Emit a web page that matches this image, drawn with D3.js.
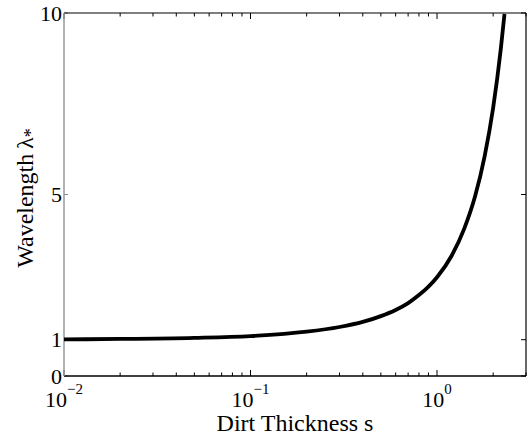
<!DOCTYPE html>
<html>
<head>
<meta charset="utf-8">
<script src="https://cdn.jsdelivr.net/npm/d3@7"></script>
<style>
  body { margin: 0; background: #fff; }
  text { font-family: "Liberation Serif", "DejaVu Serif", serif; fill: #000; }
</style>
</head>
<body>
<div id="chart"></div>
<script>
// dirt thickness s and wavelength lambda_*
const thickness = [0.01, 0.02, 0.05, 0.1, 0.2, 0.3, 0.4, 0.5, 0.6, 0.7, 0.8, 0.9, 1.0, 1.2, 1.4, 1.6, 1.8, 2.0, 2.2, 2.3];
const wavelength = [1.01, 1.02, 1.05, 1.10, 1.22, 1.35, 1.49, 1.65, 1.82, 2.01, 2.23, 2.46, 2.72, 3.32, 4.06, 4.95, 6.05, 7.39, 9.03, 9.97];

const yTicks = [0, 1, 5, 10];
const xMajor = [0.01, 0.1, 1];
const xExp = ["\u22122", "\u22121", "0"];

const width = 532;
const height = 438;
const margin = {top: 13, right: 6, bottom: 62, left: 64};

const svg = d3.select("#chart").append("svg")
  .attr("width", width)
  .attr("height", height);

const x = d3.scaleLog()
  .domain([0.01, 3])
  .range([margin.left, width - margin.right]);

const y = d3.scaleLinear()
  .domain([0, 10])
  .range([height - margin.bottom, margin.top]);

const x0 = x.range()[0], x1 = x.range()[1];
const y0 = y.range()[0], y1 = y.range()[1];

// minor ticks on the log axis
const xMinor = [];
xMajor.forEach((dec) => {
  for (let k = 2; k <= 9; k++) {
    const v = dec * k;
    if (v <= 3) { xMinor.push(v); }
  }
});

const g = svg.append("g");

const xTick = (d, len) => {
  g.append("line")
    .attr("x1", x(d)).attr("x2", x(d))
    .attr("y1", y0).attr("y2", y0 - len)
    .attr("stroke", "#000");
  g.append("line")
    .attr("x1", x(d)).attr("x2", x(d))
    .attr("y1", y1).attr("y2", y1 + len)
    .attr("stroke", "#000");
};
xMinor.forEach((d) => xTick(d, 3.5));
xMajor.forEach((d) => xTick(d, 6));

// y ticks (left and right, pointing in)
yTicks.forEach((t) => {
  g.append("line")
    .attr("x1", x0).attr("x2", x0 + 4)
    .attr("y1", y(t)).attr("y2", y(t))
    .attr("stroke", "#888");
  g.append("line")
    .attr("x1", x1).attr("x2", x1 - 5)
    .attr("y1", y(t)).attr("y2", y(t))
    .attr("stroke", "#000");
});

// box
g.append("line").attr("x1", x0).attr("x2", x1).attr("y1", y0).attr("y2", y0)
  .attr("stroke", "#000").attr("stroke-width", 1.5);
g.append("line").attr("x1", x0).attr("x2", x1).attr("y1", y1).attr("y2", y1)
  .attr("stroke", "#000").attr("stroke-width", 1.2);
g.append("line").attr("x1", x1).attr("x2", x1).attr("y1", y0).attr("y2", y1)
  .attr("stroke", "#000").attr("stroke-width", 1.2);
g.append("line").attr("x1", x0).attr("x2", x0).attr("y1", y0).attr("y2", y1)
  .attr("stroke", "#999").attr("stroke-width", 1.5);

// y tick labels
svg.selectAll(".ylab")
  .data(yTicks)
  .join("text")
  .attr("x", x0 - 2)
  .attr("y", (d) => y(d))
  .attr("dy", "0.35em")
  .attr("text-anchor", "end")
  .attr("font-size", 22)
  .text((d) => d);

// x tick labels 10^n
xMajor.forEach((d, i) => {
  const t = svg.append("text")
    .attr("x", x(d))
    .attr("y", 407)
    .attr("text-anchor", "middle")
    .attr("font-size", 22);
  t.append("tspan").text("10");
  t.append("tspan")
    .attr("dy", -13)
    .attr("font-size", 15)
    .text(xExp[i]);
});

// axis titles
svg.append("text")
  .attr("x", (x0 + x1) / 2)
  .attr("y", 431)
  .attr("text-anchor", "middle")
  .attr("font-size", 24)
  .text("Dirt Thickness s");

const yl = svg.append("text")
  .attr("transform", "translate(33,198) rotate(-90)")
  .attr("text-anchor", "middle")
  .attr("font-size", 24);
yl.append("tspan").text("Wavelength\u2009\u03bb");
yl.append("tspan").attr("dy", 4).attr("font-size", 18).text("*");

// curve, clipped to the plot box
svg.append("clipPath").attr("id", "plotclip")
  .append("rect")
  .attr("x", x0).attr("y", y1)
  .attr("width", x1 - x0).attr("height", y0 - y1);

const line = d3.line()
  .x((d) => x(d[0]))
  .y((d) => y(d[1]))
  .curve(d3.curveMonotoneX);

svg.append("path")
  .datum(d3.zip(thickness, wavelength))
  .attr("clip-path", "url(#plotclip)")
  .attr("fill", "none")
  .attr("stroke", "#000")
  .attr("stroke-width", 3.8)
  .attr("d", line);
</script>
</body>
</html>
